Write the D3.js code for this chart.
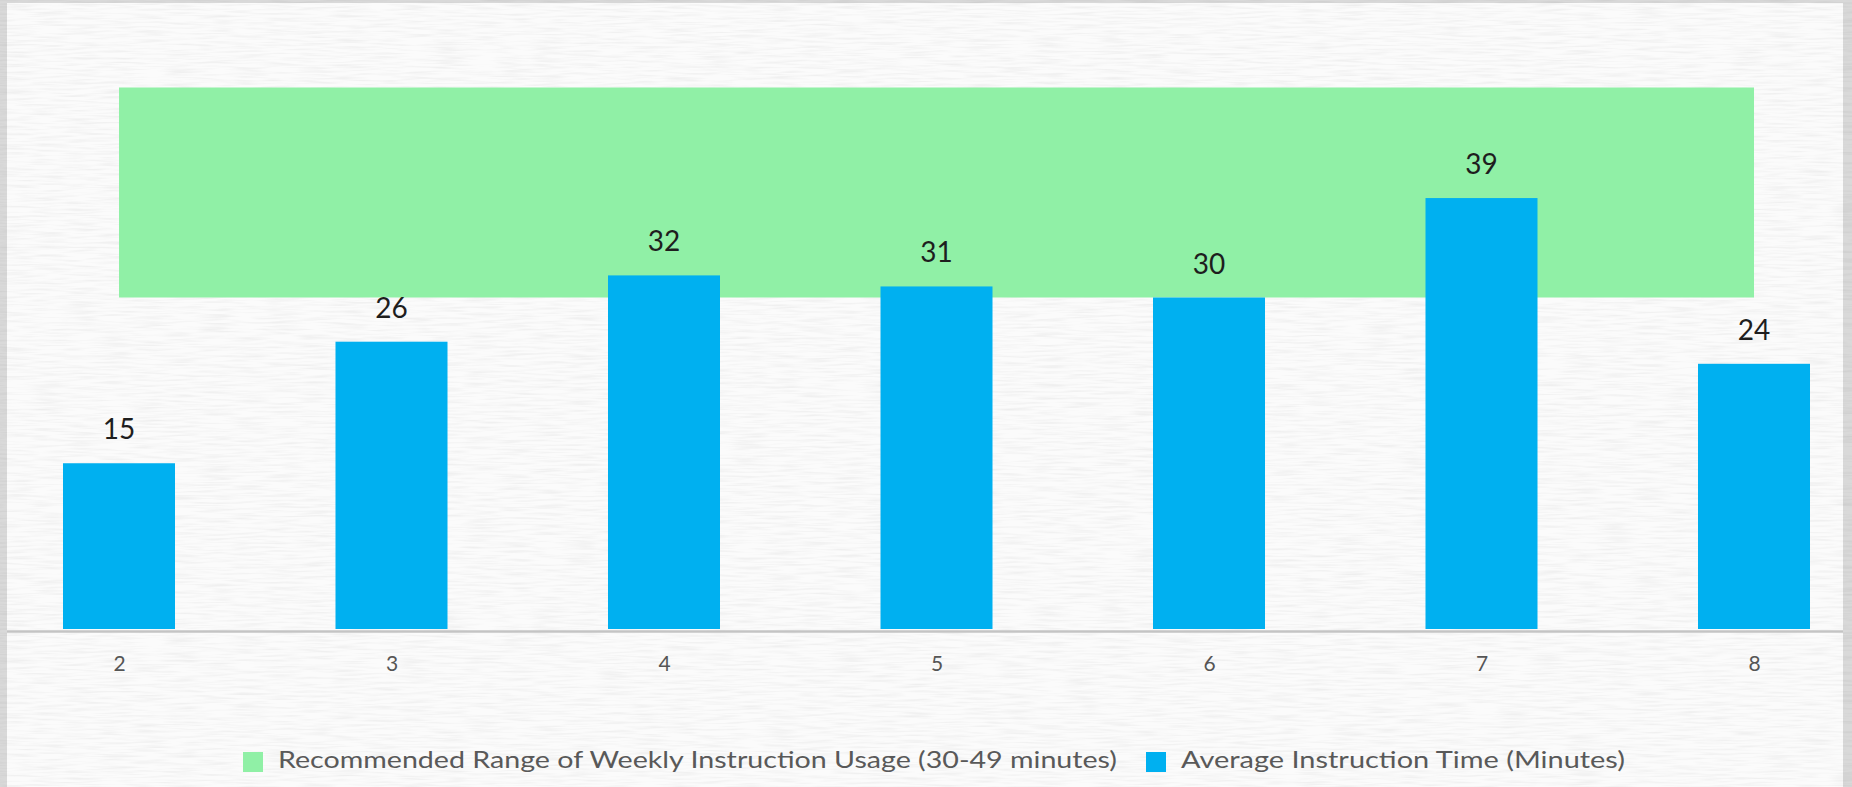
<!DOCTYPE html>
<html>
<head>
<meta charset="utf-8">
<script src="https://cdn.jsdelivr.net/npm/d3@7"></script>
<style>
  html, body { margin: 0; padding: 0; background: #d9d9d9; }
  svg { display: block; }
  text { font-family: Lato, 'Open Sans', sans-serif; }
</style>
</head>
<body>
<div class="chart"></div>
<script>
// grades on the x axis
const grades = ['2', '3', '4', '5', '6', '7', '8']
// average instruction time (minutes)
const avgMinutes = [15, 26, 32, 31, 30, 39, 24]
// recommended weekly range, low and high edge per grade
const rangeLow = [30, 30, 30, 30, 30, 30, 30]
const rangeHigh = [49, 49, 49, 49, 49, 49, 49]
const legendLabels = [
  'Recommended Range of Weekly Instruction Usage (30-49 minutes)',
  'Average Instruction Time (Minutes)'
]

const fullWidth = 1852
const fullHeight = 787
const colors = { range: '#90f0a6', bar: '#00b0f0' }

const svg = d3.select('.chart')
  .append('svg')
    .attr('width', fullWidth)
    .attr('height', fullHeight)

// paper-ish background inside the grey frame (fine horizontal print streaks)
const defs = svg.append('defs')
const noise = defs.append('filter').attr('id', 'paper')
noise.append('feTurbulence')
  .attr('type', 'fractalNoise')
  .attr('baseFrequency', '0.03 0.45')
  .attr('numOctaves', 2)
  .attr('seed', 5)
noise.append('feColorMatrix')
  .attr('type', 'matrix')
  .attr('values', '0 0 0 0 0  0 0 0 0 0  0 0 0 0 0  0 0 0 -1 0.6')

svg.append('rect')
  .attr('x', 7).attr('y', 3)
  .attr('width', 1836).attr('height', fullHeight)
  .attr('fill', '#fbfbfb')
svg.append('rect')
  .attr('x', 7).attr('y', 3)
  .attr('width', 1836).attr('height', fullHeight)
  .attr('filter', 'url(#paper)')
  .attr('opacity', 0.1)

// scales
const x = d3.scalePoint()
  .domain(grades)
  .range([119, 1754])
const y = d3.scaleLinear()
  .domain([0, 50])
  .range([629, 76.5])
const barWidth = x.step() * 0.411

const rows = grades.map((g, i) => ({
  grade: g, value: avgMinutes[i], low: rangeLow[i], high: rangeHigh[i]
}))

// recommended range band (area between low and high)
const area = d3.area()
  .x(d => x(d.grade))
  .y0(d => y(d.low))
  .y1(d => y(d.high))
svg.append('path')
  .datum(rows)
  .attr('d', area)
  .attr('fill', colors.range)

// bars
svg.selectAll('rect.bar')
  .data(rows)
  .enter()
    .append('rect')
    .attr('class', 'bar')
    .attr('x', d => x(d.grade) - barWidth / 2)
    .attr('y', d => y(d.value))
    .attr('width', barWidth)
    .attr('height', d => y(0) - y(d.value))
    .attr('fill', colors.bar)

// data labels
svg.selectAll('text.val')
  .data(rows)
  .enter()
    .append('text')
    .attr('class', 'val')
    .attr('x', d => x(d.grade))
    .attr('y', d => y(d.value) - 24)
    .attr('text-anchor', 'middle')
    .attr('font-size', 28)
    .attr('fill', '#1e1e1e')
    .text(d => d.value)

// x axis: line across the whole plate, labels under it
const xAxis = d3.axisBottom(x).tickSize(0).tickPadding(25)
const axisG = svg.append('g')
  .attr('transform', `translate(0, ${y(0) + 2})`)
  .call(xAxis)
axisG.select('.domain').remove()
axisG.selectAll('text')
  .attr('font-family', 'Lato, sans-serif')
  .attr('font-size', 21)
  .attr('fill', '#555555')
svg.append('line')
  .attr('x1', 7).attr('x2', 1843)
  .attr('y1', y(0) + 2.5).attr('y2', y(0) + 2.5)
  .attr('stroke', '#c4c4c4')
  .attr('stroke-width', 2.5)

// legend
const legendItems = [
  { label: legendLabels[0], color: colors.range, x: 243, w: 839 },
  { label: legendLabels[1], color: colors.bar, x: 1146, w: 444 }
]
const legend = svg.selectAll('g.legend')
  .data(legendItems)
  .enter()
    .append('g')
    .attr('class', 'legend')
    .attr('transform', d => `translate(${d.x}, 752)`)
legend.append('rect')
  .attr('width', 20).attr('height', 20)
  .attr('fill', d => d.color)
legend.append('text')
  .attr('x', 35)
  .attr('y', 16)
  .attr('font-family', "'Open Sans', sans-serif")
  .attr('font-size', 23)
  .attr('fill', '#595959')
  .attr('textLength', d => d.w)
  .attr('lengthAdjust', 'spacingAndGlyphs')
  .text(d => d.label)
</script>
</body>
</html>
